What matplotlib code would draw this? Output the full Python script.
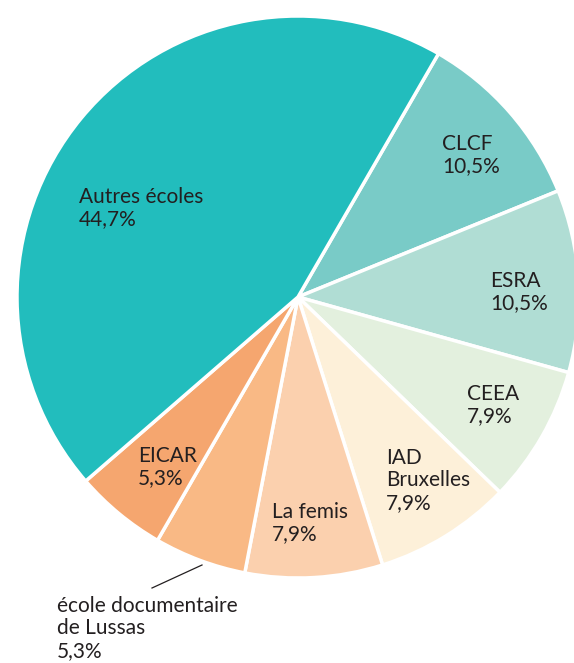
import matplotlib.pyplot as plt

# parts (clockwise from the CLCF slice)
schools = ['CLCF', 'ESRA', 'CEEA', 'IAD\nBruxelles', 'La femis',
           'école documentaire\nde Lussas', 'EICAR', 'Autres écoles']
shares = [10.5, 10.5, 7.9, 7.9, 7.9, 5.3, 5.3, 44.7]
colors = ['#79cbc7', '#b0ddd4', '#e3f0de', '#fdf0d9', '#fbd0ae',
          '#f9b985', '#f5a66f', '#22bdbd']
# label anchor (left x, top y) in pixels
label_pos = [(442, 134), (490, 271), (467, 384), (386, 448), (272, 502),
             (57, 596), (138, 446), (79, 187)]

plt.rcParams['font.family'] = ['Lato', 'DejaVu Sans']

fig = plt.figure(figsize=(5.74, 6.63), dpi=100)
ax = fig.add_axes([0, 0, 1, 1])

ax.pie(shares, colors=colors, startangle=60, counterclock=False,
       center=(298, -297), radius=281,
       wedgeprops=dict(edgecolor='white', linewidth=2.5))

for name, val, (x, y) in zip(schools, shares, label_pos):
    txt = name + '\n' + ('%.1f' % val).replace('.', ',') + '%'
    ax.text(x, -y, txt, ha='left', va='top', fontsize=15,
            color='#231f20', linespacing=1.15)

# leader line for the Lussas slice
ax.plot([152, 202], [-588, -565], color='#231f20', lw=0.9)

ax.set_xlim(0, 574)
ax.set_ylim(-663, 0)
ax.set_aspect('auto')
ax.axis('off')
fig.savefig('out.png', dpi=100)
